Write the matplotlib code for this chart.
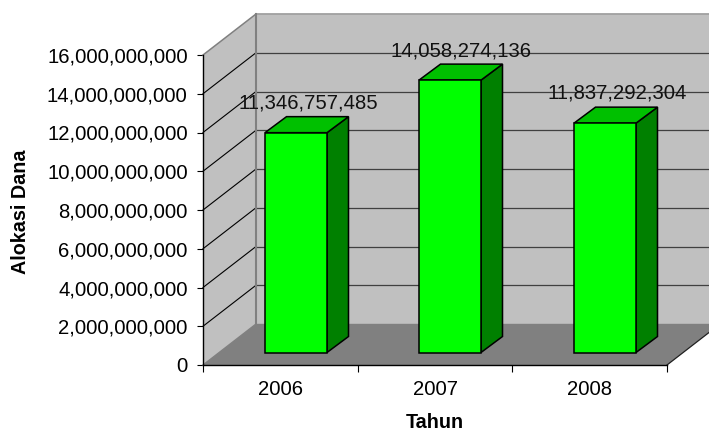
import matplotlib
matplotlib.use("Agg")
import matplotlib.pyplot as plt
from matplotlib.patches import Polygon
import numpy as np

plt.rcParams['font.family'] = ['Liberation Sans', 'DejaVu Sans']

years = ['2006', '2007', '2008']
alokasi = [11346757485, 14058274136, 11837292304]
yticks = [0, 2e9, 4e9, 6e9, 8e9, 10e9, 12e9, 14e9, 16e9]

W, H = 709, 432
fig = plt.figure(figsize=(W / 100, H / 100), dpi=100, facecolor='white')
# plot box in pixels: front floor edge 203..667, value axis 365..55
ax = fig.add_axes([203 / W, 1 - 365 / H, 464 / W, 310 / H])
ax.set_xlim(0, 3)
ax.set_ylim(0, 16e9)
ax.patch.set_visible(False)

xpx = 3 / 464
ypx = 16e9 / 310

# depth of the 3d box
dx = 53 * xpx
dy = 41 * ypx
ymax = 16e9
xmax = 3


def poly(pts, fc, ec='none', lw=0, z=1):
    ax.add_patch(Polygon(pts, closed=True, facecolor=fc, edgecolor=ec,
                         linewidth=lw, zorder=z, clip_on=False, joinstyle='miter'))


# walls and floor
poly([(0, 0), (dx, dy), (dx, ymax + dy), (0, ymax)], '#c0c0c0', z=1)
poly([(dx, dy), (xmax + dx, dy), (xmax + dx, ymax + dy), (dx, ymax + dy)], '#c0c0c0', z=1)
poly([(0, 0), (xmax, 0), (xmax + dx, dy), (dx, dy)], '#808080', z=1)

# grid on the walls
for v in yticks[1:-1]:
    ax.plot([0, dx], [v, v + dy], color='black', lw=0.8, zorder=2, clip_on=False)
    ax.plot([dx, xmax + dx], [v + dy, v + dy], color='#404040', lw=0.9, zorder=2, clip_on=False)
ax.plot([0, dx], [ymax, ymax + dy], color='#808080', lw=1.1, zorder=2, clip_on=False)
ax.plot([dx, xmax + dx], [ymax + dy, ymax + dy], color='#a0a0a0', lw=1.3, zorder=2, clip_on=False)
ax.plot([dx, dx], [dy, ymax + dy], color='#808080', lw=1.5, zorder=2, clip_on=False)
ax.plot([0, dx], [0, dy], color='#808080', lw=1, zorder=2, clip_on=False)
ax.plot([dx, xmax + dx], [dy, dy], color='#808080', lw=1, zorder=2, clip_on=False)
ax.plot([xmax, xmax + dx], [0, dy], color='#202020', lw=0.9, zorder=2, clip_on=False)

# bars
bar_w = 62 * xpx
bar_dx = 21.5 * xpx
bar_dy = 16 * ypx
base_y = 12.5 * ypx
lefts = [(265 - 203) * xpx, (419 - 203) * xpx, (574 - 203) * xpx]
label_off = [(12, 29.5), (10.5, 29.5), (12.5, 30.5)]

for i, val in enumerate(alokasi):
    x0 = lefts[i]
    x1 = x0 + bar_w
    top = base_y + val
    poly([(x1, base_y), (x1 + bar_dx, base_y + bar_dy), (x1 + bar_dx, top + bar_dy), (x1, top)],
         '#008000', 'black', 1.1, 3)
    poly([(x0, top), (x1, top), (x1 + bar_dx, top + bar_dy), (x0 + bar_dx, top + bar_dy)],
         '#00c000', 'black', 1.1, 3)
    poly([(x0, base_y), (x1, base_y), (x1, top), (x0, top)], '#00ff00', 'black', 1.1, 4)
    ax.annotate(f'{val:,}', xy=((x0 + x1) / 2, top),
                xytext=(label_off[i][0] * 0.72, label_off[i][1] * 0.72), textcoords='offset points',
                ha='center', va='center', fontsize=14.6, color='#111111', zorder=6,
                annotation_clip=False)

# axes and ticks
for s in ['top', 'right']:
    ax.spines[s].set_visible(False)
for s in ['left', 'bottom']:
    ax.spines[s].set_linewidth(1.0)
    ax.spines[s].set_zorder(5)

ax.set_yticks(yticks)
ax.set_yticklabels([f'{int(v):,}' for v in yticks], fontsize=14.6)
ax.tick_params(axis='y', length=4.5, width=0.8, pad=6.5)

ax.set_xticks([0, 1, 2, 3])
ax.set_xticklabels([])
ax.set_xticks([0.5, 1.5, 2.5], minor=True)
ax.set_xticklabels(years, minor=True, fontsize=14.6)
ax.tick_params(axis='x', which='major', length=5, width=0.8)
ax.tick_params(axis='x', which='minor', length=0, pad=11)

fig.text(20.5 / W, 1 - 212 / H, 'Alokasi Dana', rotation=90, ha='center', va='center',
         fontsize=14.2, fontweight='bold')
fig.text(434.5 / W, 1 - 423 / H, 'Tahun', ha='center', va='center',
         fontsize=14.2, fontweight='bold')

fig.savefig('out.png', dpi=100)
